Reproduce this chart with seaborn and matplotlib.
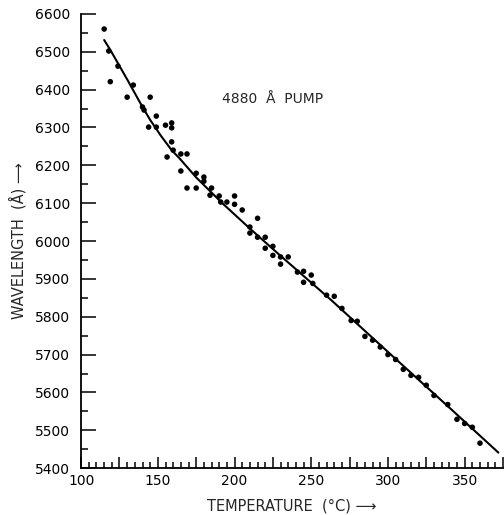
import numpy as np
import pandas as pd
import matplotlib
matplotlib.use('Agg')
import matplotlib.pyplot as plt
import seaborn as sns
from matplotlib.ticker import MultipleLocator, FuncFormatter

# measured points: temperature (deg C) and wavelength (Angstrom)
temp = [115, 118, 119, 124, 130, 134, 140, 141, 145, 149, 144, 149, 155, 159, 159,
        159, 160, 156, 165, 169, 165, 175, 180, 180, 169, 175, 185, 184, 190, 191,
        200, 200, 195, 205, 215, 210, 210, 215, 220, 220, 225, 225, 230, 230, 235,
        241, 245, 250, 245, 251, 260, 265, 270, 276, 280, 285, 290, 295, 300, 305,
        310, 315, 320, 325, 330, 339, 345, 350, 355, 360]
wavelength = [6560, 6502, 6421, 6462, 6380, 6412, 6354, 6346, 6380, 6330, 6301, 6301, 6306, 6312, 6299,
              6262, 6240, 6222, 6230, 6230, 6185, 6179, 6169, 6158, 6140, 6140, 6140, 6121, 6119, 6103,
              6119, 6097, 6103, 6082, 6060, 6037, 6021, 6010, 6010, 5981, 5986, 5962, 5958, 5939, 5958,
              5918, 5920, 5910, 5891, 5888, 5857, 5854, 5822, 5790, 5788, 5748, 5738, 5720, 5700, 5687,
              5661, 5645, 5640, 5619, 5592, 5568, 5529, 5518, 5508, 5466]

# fitted curve
curve_temp = [115, 119, 130, 140, 145, 152, 159, 164, 175, 192, 210, 228, 263, 300, 340, 372]
curve_wl = [6531, 6505, 6427, 6354, 6320, 6278, 6240, 6219, 6168, 6100, 6033, 5968, 5844, 5707, 5560, 5441]

df = pd.DataFrame({'Temperature': temp, 'Wavelength': wavelength})
curve = pd.DataFrame({'Temperature': curve_temp, 'Wavelength': curve_wl})

sns.set_style('ticks')
plt.rcParams['font.family'] = ['DejaVu Sans']

fig = plt.figure(figsize=(5.04, 5.15), dpi=100)
ax = fig.add_axes([0.161, 0.091, 0.837, 0.882])

sns.lineplot(data=curve, x='Temperature', y='Wavelength', sort=False,
             color='black', linewidth=1.5, ax=ax)
sns.scatterplot(data=df, x='Temperature', y='Wavelength', color='black',
                s=16, edgecolor='none', ax=ax)

ax.set_xlim(100, 375)
ax.set_ylim(5400, 6600)

ax.xaxis.set_major_locator(MultipleLocator(25))
ax.xaxis.set_minor_locator(MultipleLocator(5))
ax.xaxis.set_major_formatter(FuncFormatter(lambda v, p: f'{int(v)}' if v % 50 == 0 and v < 375 else ''))
ax.yaxis.set_major_locator(MultipleLocator(100))
ax.yaxis.set_minor_locator(MultipleLocator(50))

ax.tick_params(axis='both', which='both', direction='in', color='black', width=1.1,
               labelsize=10, labelcolor='black')
ax.tick_params(axis='y', which='major', length=11, pad=8)
ax.tick_params(axis='y', which='minor', length=5)
ax.tick_params(axis='x', which='major', length=8, pad=4)
ax.tick_params(axis='x', which='minor', length=4)

sns.despine(ax=ax)
for side in ['left', 'bottom']:
    ax.spines[side].set_linewidth(1.3)
    ax.spines[side].set_color('black')

ax.set_xlabel('TEMPERATURE  (°C) ⟶', fontsize=10.5, labelpad=8)
ax.set_ylabel('WAVELENGTH  (Å) ⟶', fontsize=10.5, labelpad=6)
ax.text(191.5, 6375, '4880  Å  PUMP', fontsize=10, ha='left', va='center')

fig.savefig('out.png', dpi=100)
